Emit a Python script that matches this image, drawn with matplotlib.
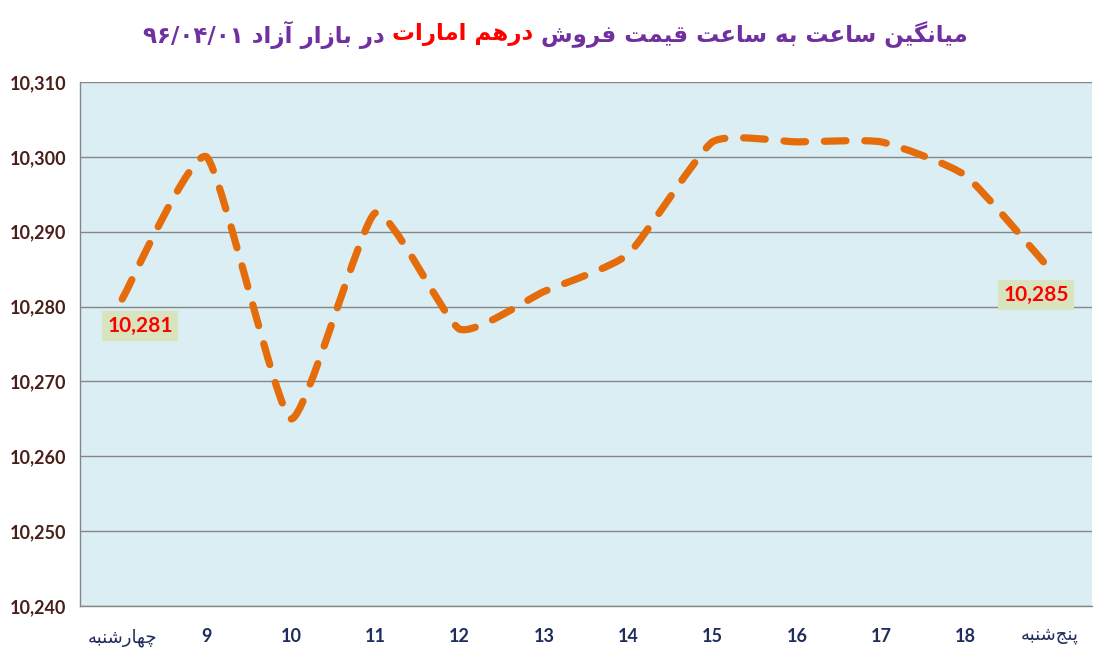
import numpy as np
import matplotlib
matplotlib.use("Agg")
import matplotlib.pyplot as plt
from matplotlib.path import Path
from matplotlib.patches import PathPatch
from matplotlib.ticker import FuncFormatter, MultipleLocator

# ---------------- data ----------------
categories = ["چهارشنبه", "9", "10", "11", "12", "13", "14", "15", "16", "17", "18", "پنج\u200cشنبه"]
prices = [10281, 10300, 10265, 10292.5, 10277, 10282, 10287, 10302, 10302, 10302, 10297.5, 10285]
label_values = {0: "10,281", 11: "10,285"}
title_parts = ["میانگین ساعت به ساعت قیمت فروش", "درهم امارات", "در بازار آزاد ۹۶/۰۴/۰۱"]
y_min, y_max, y_step = 10240, 10310, 10

# ---------------- simple Arabic/Persian shaping ----------------
FORMS = {
    'ا': ('\uFE8D', '\uFE8E', None, None),
    'آ': ('\uFE81', '\uFE82', None, None),
    'د': ('\uFEA9', '\uFEAA', None, None),
    'ر': ('\uFEAD', '\uFEAE', None, None),
    'ز': ('\uFEAF', '\uFEB0', None, None),
    'و': ('\uFEED', '\uFEEE', None, None),
    'ب': ('\uFE8F', '\uFE90', '\uFE91', '\uFE92'),
    'ت': ('\uFE95', '\uFE96', '\uFE97', '\uFE98'),
    'ج': ('\uFE9D', '\uFE9E', '\uFE9F', '\uFEA0'),
    'س': ('\uFEB1', '\uFEB2', '\uFEB3', '\uFEB4'),
    'ش': ('\uFEB5', '\uFEB6', '\uFEB7', '\uFEB8'),
    'ع': ('\uFEC9', '\uFECA', '\uFECB', '\uFECC'),
    'ف': ('\uFED1', '\uFED2', '\uFED3', '\uFED4'),
    'ق': ('\uFED5', '\uFED6', '\uFED7', '\uFED8'),
    'ل': ('\uFEDD', '\uFEDE', '\uFEDF', '\uFEE0'),
    'م': ('\uFEE1', '\uFEE2', '\uFEE3', '\uFEE4'),
    'ن': ('\uFEE5', '\uFEE6', '\uFEE7', '\uFEE8'),
    'ه': ('\uFEE9', '\uFEEA', '\uFEEB', '\uFEEC'),
    'ی': ('\uFBFC', '\uFBFD', '\uFBFE', '\uFBFF'),
    'پ': ('\uFB56', '\uFB57', '\uFB58', '\uFB59'),
    'چ': ('\uFB7A', '\uFB7B', '\uFB7C', '\uFB7D'),
    'گ': ('\uFB92', '\uFB93', '\uFB94', '\uFB95'),
    'ک': ('\uFB8E', '\uFB8F', '\uFB90', '\uFB91'),
}


def shape_word(word):
    out = []
    n = len(word)
    for i, ch in enumerate(word):
        if ch == '\u200c':
            continue
        if ch not in FORMS:
            out.append(ch)
            continue
        prev = word[i - 1] if i > 0 else None
        nxt = word[i + 1] if i < n - 1 else None
        jp = prev in FORMS and FORMS[prev][2] is not None
        jn = nxt in FORMS and FORMS[ch][2] is not None
        iso, fin, ini, med = FORMS[ch]
        if jp and jn:
            g = med
        elif jp:
            g = fin
        elif jn:
            g = ini
        else:
            g = iso
        out.append(g)
    return ''.join(out)


def is_ltr(word):
    return all(c in '0123456789۰۱۲۳۴۵۶۷۸۹/,.' for c in word)


def visual(text):
    words = text.split(' ')
    vis = []
    for w in words:
        if is_ltr(w):
            vis.append(w)
        else:
            vis.append(shape_word(w)[::-1])
    return ' '.join(vis[::-1])


# ---------------- figure ----------------
W, H = 1100, 654
fig = plt.figure(figsize=(W / 100, H / 100), dpi=100, facecolor='white')
ax = fig.add_axes([80 / W, 1 - 606 / H, (1092 - 80) / W, (606 - 82) / H])
ax.set_facecolor('#DBEEF4')

x = np.arange(len(prices))
ax.set_xlim(-0.5, len(prices) - 0.5)
ax.set_ylim(y_min, y_max)
ax.yaxis.set_major_locator(MultipleLocator(y_step))
ax.yaxis.set_major_formatter(FuncFormatter(lambda v, p: f"{v:,.0f}"))
ax.grid(axis='y', color='#868686', linewidth=1.0)
ax.set_axisbelow(True)
for s in ['top', 'right']:
    ax.spines[s].set_visible(False)
for s in ['left', 'bottom']:
    ax.spines[s].set_color('#868686')
    ax.spines[s].set_linewidth(1.0)

ax.set_xticks(x)
ax.set_xticklabels([c if is_ltr(c) else visual(c) for c in categories])
ax.tick_params(axis='both', length=0)
ax.tick_params(axis='x', pad=16)
ax.tick_params(axis='y', pad=10)
for t, c in zip(ax.get_xticklabels(), categories):
    t.set_fontfamily(['Lato', 'DejaVu Sans'])
    t.set_color('#1F2D5C')
    if is_ltr(c):
        t.set_fontweight('bold')
        t.set_fontsize(13)
    else:
        t.set_fontweight('normal')
        t.set_fontsize(13)
for t in ax.get_yticklabels():
    t.set_fontfamily(['Lato', 'DejaVu Sans'])
    t.set_fontweight('bold')
    t.set_fontsize(13)
    t.set_color('#4A1F1A')

# smoothed line (bezier with light tension, like Excel's smoothed line)
tension = 1.0 / 12.0
pts = np.column_stack([x, prices]).astype(float)
verts = [tuple(pts[0])]
codes = [Path.MOVETO]
n = len(pts)
for i in range(n - 1):
    p0 = pts[i - 1] if i > 0 else pts[i]
    p1 = pts[i]
    p2 = pts[i + 1]
    p3 = pts[i + 2] if i + 2 < n else pts[i + 1]
    c1 = p1 + (p2 - p0) * tension
    c2 = p2 - (p3 - p1) * tension
    verts += [tuple(c1), tuple(c2), tuple(p2)]
    codes += [Path.CURVE4] * 3
path = Path(verts, codes)
patch = PathPatch(path, facecolor='none', edgecolor='#E46C0A', linewidth=5.2,
                  linestyle=(0, (3.0, 2.6)), capstyle='round', joinstyle='round', zorder=3)
ax.add_patch(patch)

# data labels
offsets = {0: (18, -27), 11: (-14, -26)}
for i, txt in label_values.items():
    ax.annotate(txt, (x[i], prices[i]), xytext=offsets[i], textcoords='offset pixels',
                ha='center', va='center', fontsize=15, fontweight='bold', color='#FF0000',
                fontfamily=['Lato', 'DejaVu Sans'],
                bbox=dict(boxstyle='square,pad=0.25', facecolor='#D7E4BD', edgecolor='none'),
                zorder=4)

# multi-colour title, laid out right-to-left
colors = ['#7030A0', '#FF0000', '#7030A0']
vis_parts = [visual(p) for p in title_parts]
order = [2, 1, 0]  # visual left-to-right
fs = 18
texts = []
for k in order:
    t = fig.text(0, 0, vis_parts[k], color=colors[k], fontsize=fs, fontweight='bold',
                 fontfamily=['DejaVu Sans'], ha='left', va='center')
    texts.append(t)
fig.canvas.draw()
r = fig.canvas.get_renderer()
space_w = 8
widths = [t.get_window_extent(r).width for t in texts]
total = sum(widths) + space_w * (len(texts) - 1)
target = 826
scale = target / total
for t in texts:
    t.set_fontsize(fs * scale)
fig.canvas.draw()
widths = [t.get_window_extent(r).width for t in texts]
space_w *= scale
total = sum(widths) + space_w * (len(texts) - 1)
xpos = 555 - total / 2
for t, w in zip(texts, widths):
    t.set_position((xpos / W, 1 - 35 / H))
    xpos += w + space_w

fig.savefig('out.png', dpi=100, facecolor='white')
